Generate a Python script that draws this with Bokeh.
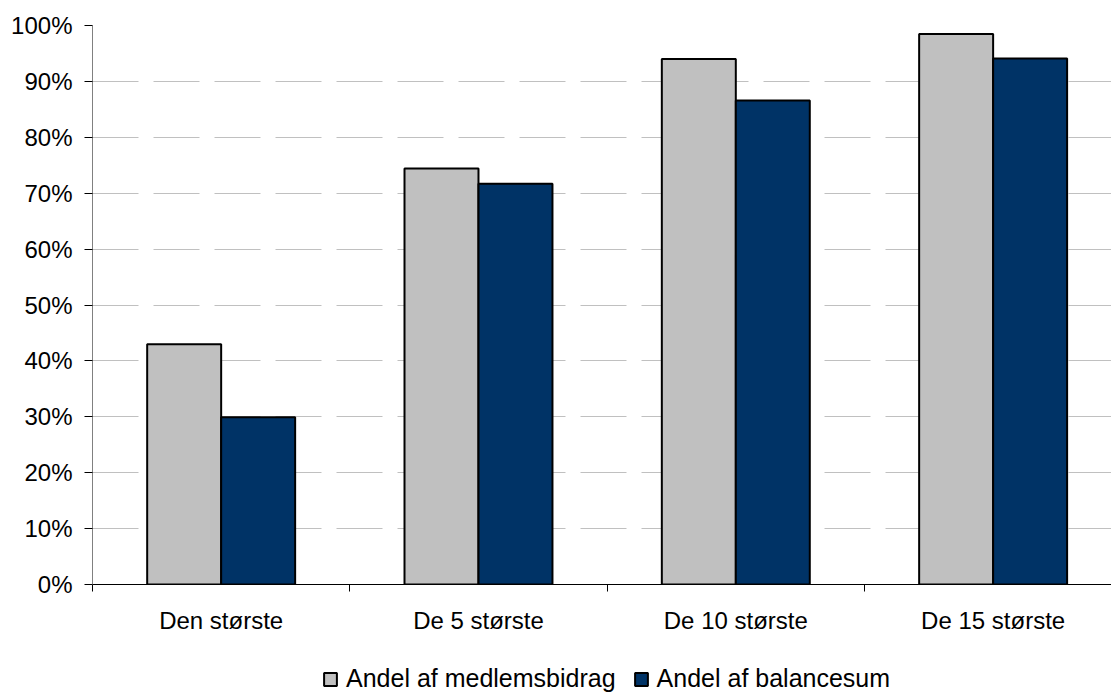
from bokeh.plotting import figure
from bokeh.layouts import column
from bokeh.models import (Range1d, FixedTicker, PrintfTickFormatter, Legend,
                          LegendItem, ColumnDataSource)
from bokeh.transform import dodge
from bokeh.embed import file_html
from bokeh.resources import INLINE

# Share of the largest funds (percent)
categories = ["Den største", "De 5 største", "De 10 største", "De 15 største"]
medlemsbidrag = [43.0, 74.4, 94.0, 98.5]
balancesum = [29.9, 71.7, 86.6, 94.1]
series_names = ["Andel af medlemsbidrag", "Andel af balancesum"]
y_ticks = list(range(0, 101, 10))

FONT = "Liberation Sans"
FSIZE = "24px"
GREY = "#C0C0C0"
NAVY = "#003366"
COLORS = [GREY, NAVY]

centers = [i + 0.5 for i in range(len(categories))]
bar_w = 0.2875
src = ColumnDataSource(dict(x=centers, m=medlemsbidrag, b=balancesum))

p = figure(width=1111, height=640, output_backend="svg", toolbar_location=None,
           x_range=Range1d(0, 3.96), y_range=Range1d(0, 100),
           min_border_left=92, min_border_right=0, min_border_top=25,
           min_border_bottom=56)
p.outline_line_color = None
p.background_fill_color = "white"
p.border_fill_color = "white"

p.vbar(x=dodge("x", -bar_w / 2, range=p.x_range), top="m", width=bar_w,
       source=src, fill_color=COLORS[0], line_color="black", line_width=2)
p.vbar(x=dodge("x", bar_w / 2, range=p.x_range), top="b", width=bar_w,
       source=src, fill_color=COLORS[1], line_color="black", line_width=2)

# y axis
yax = p.yaxis[0]
yax.ticker = FixedTicker(ticks=y_ticks)
yax.formatter = PrintfTickFormatter(format="%d%%")
yax.axis_line_color = "#808080"
yax.major_tick_line_color = "black"
yax.major_tick_out = 8
yax.major_tick_in = 0
yax.minor_tick_out = 0
yax.minor_tick_in = 0
yax.major_label_standoff = 12
yax.major_label_text_font = FONT
yax.major_label_text_font_size = FSIZE
yax.major_label_text_color = "black"

# x axis: labels at category centres, tick marks between categories
xax = p.xaxis[0]
xax.ticker = FixedTicker(ticks=centers, minor_ticks=list(range(len(categories))))
xax.major_label_overrides = {c: lab for c, lab in zip(centers, categories)}
xax.axis_line_color = "black"
xax.major_tick_out = 0
xax.major_tick_in = 0
xax.minor_tick_out = 7
xax.minor_tick_in = 0
xax.minor_tick_line_color = "black"
xax.major_label_standoff = 15
xax.major_label_text_font = FONT
xax.major_label_text_font_size = FSIZE
xax.major_label_text_color = "black"

p.xgrid.visible = False
p.ygrid.ticker = FixedTicker(ticks=y_ticks)
p.ygrid.grid_line_color = GREY
p.ygrid.grid_line_dash = "46 15"
p.ygrid.grid_line_width = 1

# legend strip underneath the chart (its frame lines up with the chart's)
lg = figure(width=1111, height=53, output_backend="svg", toolbar_location=None,
            x_axis_type=None, y_axis_type=None,
            x_range=Range1d(0, 1), y_range=Range1d(0, 1),
            min_border=0)
lg.outline_line_color = None
lg.grid.visible = False
lg.border_fill_color = "white"
# one point parked outside the visible range, so only the legend swatches show
swatch_src = ColumnDataSource(dict(x=[5], top=[0]))
items = []
for name, col in zip(series_names, COLORS):
    rr = lg.vbar(x="x", top="top", width=0.1, source=swatch_src,
                 fill_color=col, line_color="black", line_width=2)
    items.append(LegendItem(label=name, renderers=[rr]))

legend = Legend(items=items, orientation="horizontal", location=(230, 0),
                glyph_width=16, glyph_height=16, label_standoff=8, spacing=17,
                padding=0, margin=0, border_line_color=None,
                background_fill_alpha=0,
                label_text_font=FONT, label_text_font_size="25px",
                label_text_color="black")
lg.add_layout(legend, "center")

layout = column(p, lg, spacing=0)
open("out.html", "w").write(file_html(layout, INLINE))
